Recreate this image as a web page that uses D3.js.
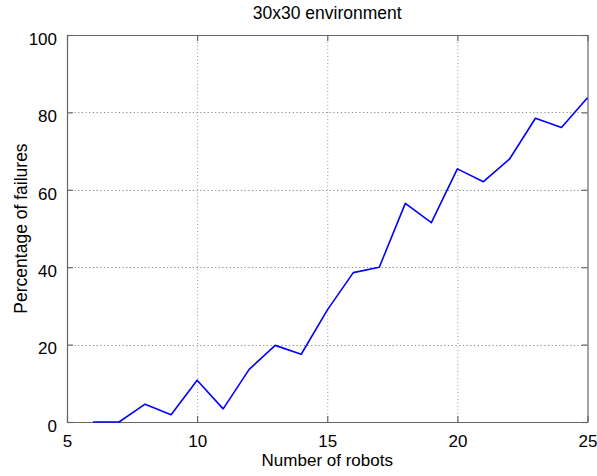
<!DOCTYPE html>
<html>
<head>
<meta charset="utf-8">
<script src="https://cdn.jsdelivr.net/npm/d3@7"></script>
<style>
  html, body { margin: 0; padding: 0; background: #fff; }
  svg { display: block; font-family: "Liberation Sans", Arial, sans-serif; }
</style>
</head>
<body>
<svg id="chart" width="597" height="476"></svg>
<script>
// Failure rate versus team size in a 30x30 grid environment
const robots = [6, 7, 8, 9, 10, 11, 12, 13, 14, 15, 16, 17, 18, 19, 20, 21, 22, 23, 24, 25];
const failures = [0, 0, 4.6, 1.9, 10.8, 3.4, 13.6, 19.8, 17.5, 28.9, 38.6, 40.0, 56.5, 51.5, 65.4, 62.1, 67.9, 78.5, 76.1, 83.8];
const xTicks = [5, 10, 15, 20, 25];
const yTicks = [0, 20, 40, 60, 80, 100];
const titleText = "30x30 environment";
const xLabelText = "Number of robots";
const yLabelText = "Percentage of failures";

const svg = d3.select("#chart");
const plotLeft = 67, plotRight = 587.5, plotTop = 35, plotBottom = 422;

const x = d3.scaleLinear().domain([5, 25]).range([plotLeft, plotRight]);
const y = d3.scaleLinear().domain([0, 100]).range([plotBottom, plotTop]);

// dotted grid
const grid = svg.append("g");
grid.selectAll("line.gx").data(xTicks.slice(1, -1)).join("line")
  .attr("x1", d => x(d) + 0.5).attr("x2", d => x(d) + 0.5)
  .attr("y1", plotTop).attr("y2", plotBottom)
  .attr("stroke", "#999").attr("stroke-width", 1).attr("stroke-dasharray", "1,2.5");
grid.selectAll("line.gy").data(yTicks.slice(1, -1)).join("line")
  .attr("x1", plotLeft).attr("x2", plotRight)
  .attr("y1", d => Math.round(y(d)) + 0.5).attr("y2", d => Math.round(y(d)) + 0.5)
  .attr("stroke", "#888").attr("stroke-width", 1).attr("stroke-dasharray", "1.2,2.5");

// axes with inward ticks on all four sides
const tickLen = 6;
const axisColor = "#666";
const xAxisB = d3.axisBottom(x).tickValues(xTicks).tickSizeInner(-tickLen).tickSizeOuter(0).tickPadding(13);
const xAxisT = d3.axisTop(x).tickValues(xTicks).tickSizeInner(-tickLen).tickSizeOuter(0).tickFormat("");
const yAxisL = d3.axisLeft(y).tickValues(yTicks).tickSizeInner(-tickLen).tickSizeOuter(0).tickPadding(10);
const yAxisR = d3.axisRight(y).tickValues(yTicks).tickSizeInner(-tickLen).tickSizeOuter(0).tickFormat("");

function style(g) {
  g.select(".domain").attr("stroke", axisColor).attr("stroke-width", 1.2);
  g.selectAll(".tick line").attr("stroke", axisColor).attr("stroke-width", 1.2);
  g.selectAll(".tick text").attr("fill", "#000").attr("font-size", 17)
    .attr("font-family", "'Liberation Sans', Arial, sans-serif");
}

svg.append("g").attr("transform", `translate(0,${plotBottom})`).call(xAxisB).call(style);
svg.append("g").attr("transform", `translate(0,${plotTop})`).call(xAxisT).call(style);
svg.append("g").attr("transform", `translate(${plotLeft},0)`).call(yAxisL).call(style)
  .selectAll(".tick text").attr("dy", "0.55em");
svg.append("g").attr("transform", `translate(${plotRight},0)`).call(yAxisR).call(style);

// data line
const line = d3.line().x((d, i) => x(robots[i])).y(d => y(d));
svg.append("path")
  .datum(failures)
  .attr("d", line)
  .attr("fill", "none")
  .attr("stroke", "#0000ff")
  .attr("stroke-width", 1.6)
  .attr("stroke-linejoin", "round");

// titles
svg.append("text").attr("x", (plotLeft + plotRight) / 2).attr("y", 19)
  .attr("text-anchor", "middle").attr("font-size", 17.5).text(titleText);
svg.append("text").attr("x", (plotLeft + plotRight) / 2).attr("y", 466)
  .attr("text-anchor", "middle").attr("font-size", 17).text(xLabelText);
svg.append("text")
  .attr("transform", `translate(27,${(plotTop + plotBottom) / 2}) rotate(-90)`)
  .attr("text-anchor", "middle").attr("font-size", 17.5).text(yLabelText);
</script>
</body>
</html>
